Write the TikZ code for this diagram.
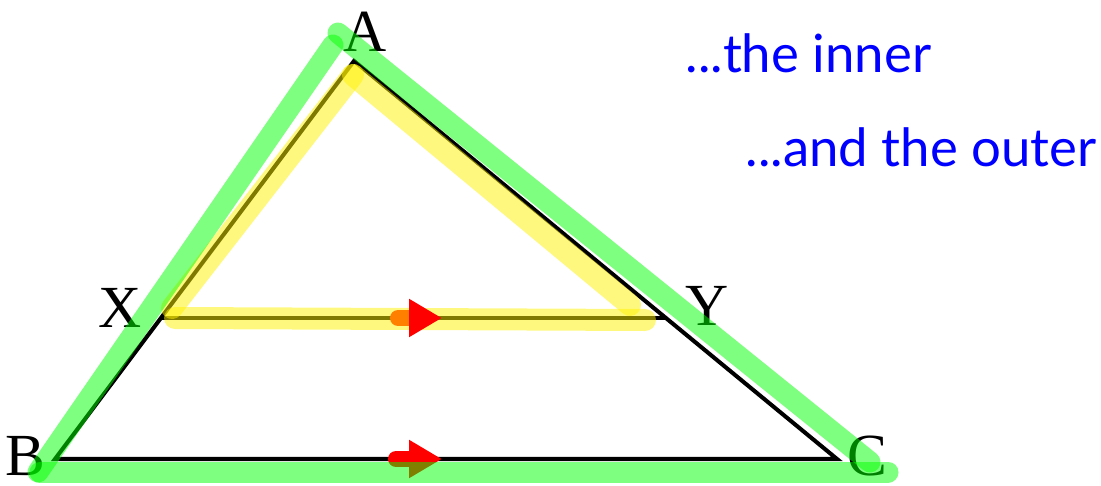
\documentclass[tikz,border=0pt]{standalone}
\usepackage{fontspec}
\setmainfont{Liberation Serif}
\newfontfamily\notefont{Lato}
\usetikzlibrary{calc}
\usetikzlibrary{arrows.meta}

\begin{document}
\begin{tikzpicture}[
  side/.style={line width=1.15pt,black},
  outer/.style={line width=2.1mm,green,opacity=0.5,line cap=round},
  inner/.style={line width=2.2mm,yellow,opacity=0.5,line cap=round},
  parmark/.style={line width=1.6mm,line cap=round,-{Triangle[length=3.3mm,width=3.6mm,color=red]}},
  lbl/.style={anchor=base,inner sep=0pt,font=\fontsize{17}{20}\selectfont},
  note/.style={anchor=base west,inner sep=0pt,blue,font=\notefont\fontsize{15}{18}\selectfont}]
\useasboundingbox (0,0) rectangle (11.01,4.85);
\def\ratio{0.646}
\coordinate (A) at (3.54,4.24);
\coordinate (B) at (0.55,0.26);
\coordinate (C) at (8.37,0.26);
\coordinate (X) at ($(A)!\ratio!(B)$);
\coordinate (Y) at ($(A)!\ratio!(C)$);
\coordinate (XYs) at (3.98,1.67);
\coordinate (XYt) at (4.42,1.67);
\coordinate (BCs) at (3.96,0.26);
\coordinate (BCt) at (4.42,0.26);

\draw[side] (A) -- (B) -- (C) -- cycle;
\draw[side] (X) -- (Y);

\node[lbl] (lA) at (3.65,4.33) {A};
\node[lbl] (lX) at (1.20,1.58) {X};
\node[lbl] (lY) at (7.07,1.60) {Y};
\node[lbl] (lB) at (0.25,0.10) {B};
\node[lbl] (lC) at (8.67,0.10) {C};

\draw[parmark,red] (BCs) -- (BCt);

% inner triangle AXY
\draw[inner] (3.53,4.10) -- (1.72,1.77);
\draw[inner] (1.75,1.67) -- (6.45,1.65);
\draw[inner] (3.53,4.10) -- (6.30,1.80);
\draw[parmark,orange] (XYs) -- (XYt);

% outer triangle ABC
\draw[outer] (0.38,0.13) -- (3.33,4.40);
\draw[outer] (3.38,4.52) -- (8.70,0.23);
\draw[outer] (0.40,0.13) -- (8.88,0.13);

\node[note] (inn) at (6.85,4.12) {...the inner};
\node[note] (out) at (7.45,3.18) {...and the outer};
\end{tikzpicture}
\end{document}
